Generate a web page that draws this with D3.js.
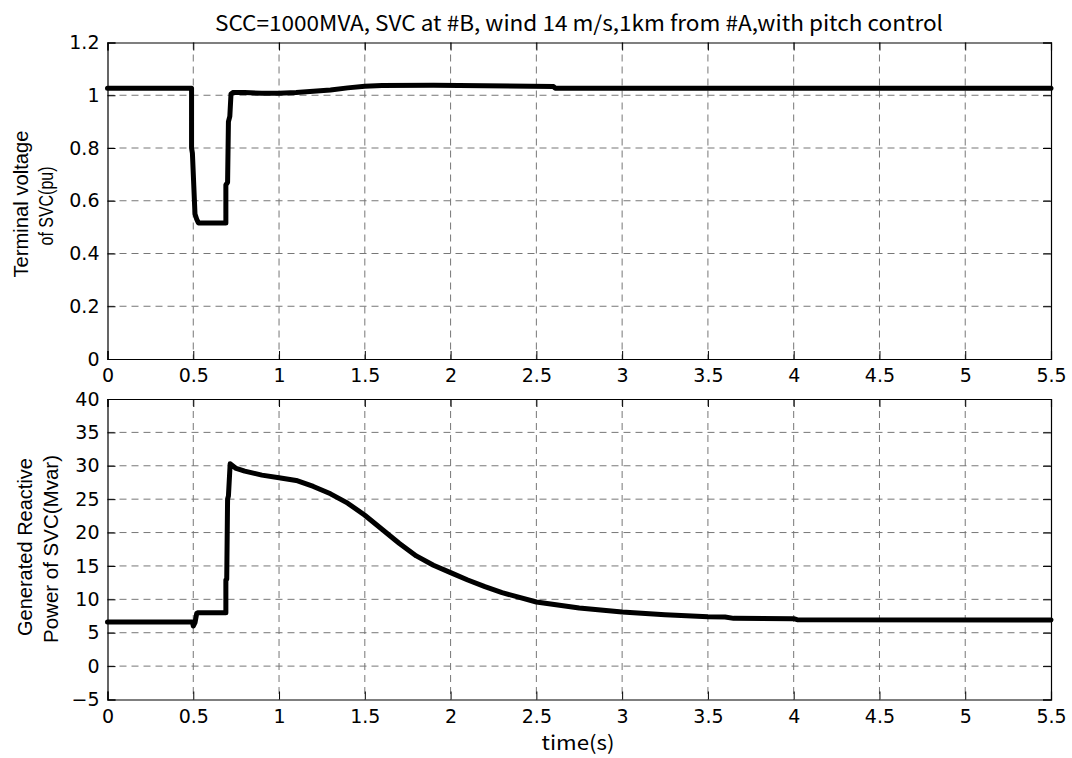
<!DOCTYPE html>
<html><head><meta charset="utf-8">
<script src="https://cdn.jsdelivr.net/npm/d3@7"></script>
<style>body{margin:0;background:#fff;} svg{display:block;}</style>
</head><body>
<svg id="c" width="1072" height="758"></svg>
<script>
const titleText = "SCC=1000MVA, SVC at #B, wind 14 m/s,1km from #A,with pitch control";
const xTicks = [0,0.5,1,1.5,2,2.5,3,3.5,4,4.5,5,5.5];
const vTicks = [0,0.2,0.4,0.6,0.8,1,1.2];
const qTicks = [-5,0,5,10,15,20,25,30,35,40];

const timeV = [0,0.49,0.49,0.495,0.51,0.52,0.53,0.69,0.69,0.70,0.705,0.713,0.72,0.73,0.8,0.9,1.0,1.1,1.2,1.3,1.4,1.5,1.6,1.9,2.6,2.61,5.5];
const voltage = [1.027,1.027,0.80,0.78,0.55,0.53,0.516,0.516,0.66,0.67,0.90,0.92,1.005,1.01,1.01,1.008,1.008,1.01,1.015,1.02,1.028,1.034,1.037,1.038,1.033,1.027,1.027];

const timeQ = [0,0.495,0.5,0.51,0.52,0.53,0.69,0.69,0.695,0.70,0.705,0.715,0.72,0.75,0.8,0.9,1.0,1.1,1.2,1.3,1.4,1.5,1.6,1.7,1.8,1.9,2.0,2.1,2.2,2.3,2.5,2.75,3.0,3.25,3.5,3.6,3.65,4.0,4.02,5.5];
const reactive = [6.6,6.6,6.0,6.5,7.9,8.0,8.0,12.9,13.0,25,25.5,30.3,30.2,29.6,29.2,28.6,28.2,27.8,26.9,25.8,24.4,22.6,20.5,18.4,16.5,15.1,14.0,12.9,11.9,11.0,9.6,8.7,8.1,7.7,7.4,7.35,7.15,7.1,6.95,6.9];

const svg = d3.select("#c");
const L = 107.5, R = 1051;
const x = d3.scaleLinear().domain([0,5.5]).range([L,R]);
const yV = d3.scaleLinear().domain([0,1.2]).range([359,42.5]);
const yQ = d3.scaleLinear().domain([-5,40]).range([699.5,399]);
const numFont = "'DejaVu Sans', sans-serif";
const labFont = "'Liberation Sans', Arial, sans-serif";
const jpFont = "'Noto Sans CJK JP', sans-serif";

function panel(y, yt, tx, ty, yfmt){
  const g = svg.append("g");
  const top = y.range()[1], bot = y.range()[0];
  g.selectAll(".gx").data(xTicks.slice(1,-1)).join("line")
    .attr("x1",d=>x(d)).attr("x2",d=>x(d)).attr("y1",top).attr("y2",bot)
    .attr("stroke","#777").attr("stroke-dasharray","7,5").attr("stroke-width",1);
  g.selectAll(".gy").data(yt.slice(1,-1)).join("line")
    .attr("y1",d=>y(d)).attr("y2",d=>y(d)).attr("x1",L).attr("x2",R)
    .attr("stroke","#777").attr("stroke-dasharray","7,5").attr("stroke-width",1);
  const ax = d3.axisBottom(x).tickValues(xTicks).tickSize(-8).tickPadding(10).tickFormat(d3.format("~g"));
  const gb = g.append("g").attr("transform",`translate(0,${bot})`).call(ax);
  const gt = g.append("g").attr("transform",`translate(0,${top})`).call(d3.axisTop(x).tickValues(xTicks).tickSize(-8).tickFormat(""));
  const ay = d3.axisLeft(y).tickValues(yt).tickSize(-8).tickPadding(8).tickFormat(yfmt);
  const gl = g.append("g").attr("transform",`translate(${L},0)`).call(ay);
  const gr = g.append("g").attr("transform",`translate(${R},0)`).call(d3.axisRight(y).tickValues(yt).tickSize(-8).tickFormat(""));
  [gb,gt,gl,gr].forEach(a=>{
    a.select(".domain").attr("stroke","#000").attr("stroke-width",1.2);
    a.selectAll(".tick line").attr("stroke","#000");
    a.selectAll("text").attr("font-family",numFont).attr("font-size",19).attr("fill","#000");
  });
  g.append("path").datum(tx.map((t,i)=>[t,ty[i]]))
    .attr("d",d3.line().x(d=>x(d[0])).y(d=>y(d[1])))
    .attr("fill","none").attr("stroke","#000").attr("stroke-width",5)
    .attr("stroke-linejoin","round").attr("stroke-linecap","round");
}
panel(yV, vTicks, timeV, voltage, d3.format("~g"));
panel(yQ, qTicks, timeQ, reactive, d=> d<0 ? "\u2212"+Math.abs(d) : String(d));

svg.append("text").attr("x",579).attr("y",31).attr("text-anchor","middle")
  .attr("font-family",jpFont).attr("font-size",21)
  .attr("textLength",728).attr("lengthAdjust","spacingAndGlyphs").text(titleText);
svg.append("text").attr("x",578).attr("y",750).attr("text-anchor","middle")
  .attr("font-family",jpFont).attr("font-size",20)
  .attr("textLength",73).attr("lengthAdjust","spacingAndGlyphs").text("time(s)");

function ylab(s, bx, cy, len){
  svg.append("text").attr("transform",`translate(${bx},${cy}) rotate(-90)`)
    .attr("text-anchor","middle").attr("font-family",labFont).attr("font-size",21)
    .attr("textLength",len).attr("lengthAdjust","spacingAndGlyphs").text(s);
}
ylab("Terminal voltage", 28, 204, 147);
ylab("of SVC(pu)", 53, 206, 79);
ylab("Generated Reactive", 32, 547, 178);
ylab("Power of SVC(Mvar)", 58, 549, 188);
</script>
</body></html>
